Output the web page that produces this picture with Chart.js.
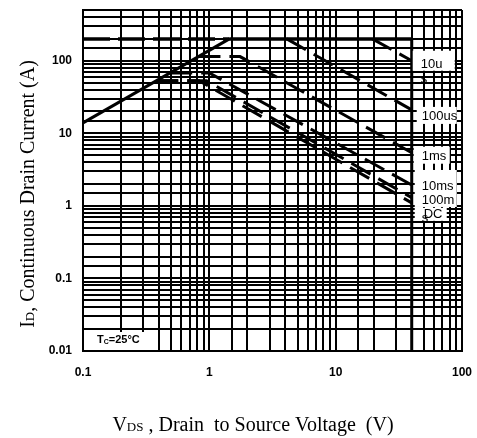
<!DOCTYPE html>
<html>
<head>
<meta charset="utf-8">
<script src="https://cdn.jsdelivr.net/npm/chart.js@4/dist/chart.umd.min.js"></script>
<style>
html,body{margin:0;padding:0;background:#fff;}
canvas{display:block;}
</style>
</head>
<body>
<canvas id="c" width="477" height="438"></canvas>
<script>
// ---- data ----
const vdsTicks = [0.1, 1, 10, 100];
const idTicks = [0.01, 0.1, 1, 10, 100];

const rdsV = [0.1, 1.44];          const rdsI = [13.9, 200];
const pkgDashV = [0.1, 1.44];      const pkgDashI = [200, 200];
const pkgSolidV = [1.44, 40];      const pkgSolidI = [200, 200];
const bvV = [40, 40];              const bvI = [200, 0.01];

const us10V = [19.5, 40];          const us10I = [200, 100];
const us100V = [4.1, 40];          const us100I = [200, 21];
const ms1V = [0.82, 1.75, 40];     const ms1I = [114, 114, 5.4];
const ms10V = [0.49, 1.0, 40];     const ms10I = [68, 68, 1.94];
const ms100V = [0.38, 0.95, 40];   const ms100I = [53, 53, 1.3];
const dcV = [0.38, 0.83, 40];      const dcI = [53, 53, 1.1];

const curveLabels = ['10u', 's', '100us', '1ms', '10ms', '100m', 'DC', 's'];
const tcLabel = ['T', 'C', '=25°C'];
const yTitle = ['I', 'D', ', Continuous Drain Current (A)'];
const xTitle = ['V', 'DS', ' , Drain  to Source Voltage  (V)'];

function pts(v, i){ return v.map((x, k) => ({x: x, y: i[k]})); }

function ds(v, i, dash, w){
  return {data: pts(v, i), borderColor: '#000', borderWidth: w, borderDash: dash,
          pointRadius: 0, fill: false, tension: 0, borderCapStyle: 'butt', clip: false};
}
const D = [22, 9];

function matchTick(list, v){
  return list.find(t => Math.abs(Math.log10(t) - Math.log10(v)) < 1e-6);
}

const overlay = {
  id: 'overlay',
  afterDatasetsDraw(chart){
    const ctx = chart.ctx;
    const xs = chart.scales.x, ys = chart.scales.y;
    const xe = xs.getPixelForValue(40);
    ctx.save();
    ctx.fillStyle = '#fff';
    const boxes = [[xe+1, ys.getPixelForValue(100)-10, 42, 20],
                   [xe+5, ys.getPixelForValue(21)-3, 40, 17],
                   [xe+2, ys.getPixelForValue(5.4)-6, 36, 17],
                   [xe+3, ys.getPixelForValue(1.94)-15, 42, 37],
                   [xe+3, ys.getPixelForValue(1.1)+5, 32, 13]];
    boxes.forEach(b => ctx.fillRect(b[0], b[1], b[2], b[3]));
    ctx.fillStyle = '#000';
    ctx.font = '13px "Liberation Sans", Arial, sans-serif';
    ctx.textBaseline = 'middle';
    ctx.textAlign = 'left';
    const pos = [[xe+9, ys.getPixelForValue(100)+4],
                 [xe+9, ys.getPixelForValue(100)+19],
                 [xe+10, ys.getPixelForValue(21)+7],
                 [xe+10, ys.getPixelForValue(5.4)+4],
                 [xe+10, ys.getPixelForValue(1.94)+1],
                 [xe+10, ys.getPixelForValue(1.3)+3],
                 [xe+12, ys.getPixelForValue(1.1)+12],
                 [xe+10, ys.getPixelForValue(1.1)+16]];
    curveLabels.forEach((t, k) => ctx.fillText(t, pos[k][0], pos[k][1]));

    const ca = chart.chartArea;
    ctx.fillStyle = '#fff';
    ctx.fillRect(ca.left + 2, ca.bottom - 19, 60, 18);
    ctx.fillStyle = '#000';
    let x = ca.left + 14, y = ca.bottom - 8;
    ctx.textBaseline = 'alphabetic';
    ctx.font = 'bold 11px "Liberation Sans", Arial, sans-serif';
    ctx.fillText(tcLabel[0], x, y); x += ctx.measureText(tcLabel[0]).width;
    ctx.font = 'bold 7px "Liberation Sans", Arial, sans-serif';
    ctx.fillText(tcLabel[1], x, y + 1); x += ctx.measureText(tcLabel[1]).width;
    ctx.font = 'bold 11px "Liberation Sans", Arial, sans-serif';
    ctx.fillText(tcLabel[2], x, y);
    ctx.restore();
  },
  afterDraw(chart){
    const ctx = chart.ctx;
    const big = '20px "Liberation Serif", "Times New Roman", serif';
    const small = '13px "Liberation Serif", "Times New Roman", serif';
    function drawParts(parts, cx, cy){
      const fonts = [big, small, big];
      let w = 0;
      parts.forEach((p, k) => { ctx.font = fonts[k]; w += ctx.measureText(p).width; });
      let x = cx - w / 2;
      parts.forEach((p, k) => { ctx.font = fonts[k]; ctx.fillText(p, x, cy); x += ctx.measureText(p).width; });
    }
    ctx.save();
    ctx.fillStyle = '#000';
    ctx.textAlign = 'left';
    ctx.textBaseline = 'alphabetic';
    drawParts(xTitle, 253, 431);
    ctx.translate(34, 194);
    ctx.rotate(-Math.PI / 2);
    drawParts(yTitle, 0, 0);
    ctx.restore();
  }
};

new Chart(document.getElementById('c'), {
  type: 'line',
  data: {
    datasets: [
      ds(rdsV, rdsI, [], 3),
      ds(pkgDashV, pkgDashI, [27, 8], 3.5),
      ds(pkgSolidV, pkgSolidI, [], 3.5),
      ds(bvV, bvI, [], 3),
      ds(us10V, us10I, D, 3),
      ds(us100V, us100I, D, 3),
      ds(ms1V, ms1I, D, 3),
      ds(ms10V, ms10I, D, 3),
      ds(ms100V, ms100I, D, 3),
      ds(dcV, dcI, D, 3)
    ]
  },
  options: {
    responsive: false,
    animation: false,
    devicePixelRatio: 1,
    layout: {padding: {left: 0, right: 15, top: 10, bottom: 0}},
    plugins: {legend: {display: false}, tooltip: {enabled: false}},
    scales: {
      x: {
        type: 'logarithmic', min: 0.1, max: 100,
        afterFit: s => { s.height = 87; s.paddingLeft = 0; s.paddingRight = 0; },
        grid: {color: '#000', lineWidth: 2, drawTicks: false},
        border: {color: '#000', width: 2},
        ticks: {
          autoSkip: false, maxRotation: 0, padding: 14, color: '#000',
          font: {family: '"Liberation Sans", Arial, sans-serif', size: 12, weight: 'bold'},
          callback: v => { const t = matchTick(vdsTicks, v); return t !== undefined ? String(t) : ''; }
        }
      },
      y: {
        type: 'logarithmic', min: 0.01, max: 500,
        afterFit: s => { s.width = 83; s.paddingTop = 0; s.paddingBottom = 0; },
        grid: {color: '#000', lineWidth: 2, drawTicks: false},
        border: {color: '#000', width: 2},
        ticks: {
          autoSkip: false, padding: 11, color: '#000',
          font: {family: '"Liberation Sans", Arial, sans-serif', size: 12, weight: 'bold'},
          callback: v => { const t = matchTick(idTicks, v); return t !== undefined ? String(t) : ''; }
        }
      }
    }
  },
  plugins: [overlay]
});
</script>
</body>
</html>
